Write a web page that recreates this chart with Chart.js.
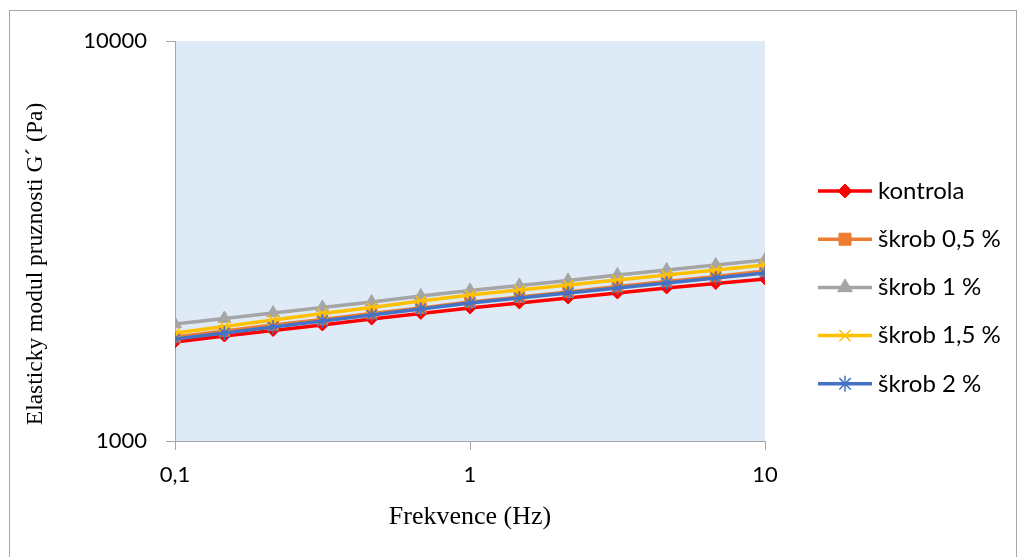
<!DOCTYPE html>
<html>
<head>
<meta charset="utf-8">
<script src="https://cdn.jsdelivr.net/npm/chart.js@4/dist/chart.umd.min.js"></script>
<style>
html,body{margin:0;padding:0;background:#fff;}
#wrap{position:relative;width:1018px;height:557px;}
</style>
</head>
<body>
<div id="wrap"><canvas id="c" width="1018" height="557"></canvas></div>
<script>
// ---- data ----
const frequencies = [0.1, 0.147, 0.215, 0.316, 0.464, 0.681, 1, 1.47, 2.15, 3.16, 4.64, 6.81, 10];
const seriesNames = ["kontrola", "škrob 0,5 %", "škrob 1 %", "škrob 1,5 %", "škrob 2 %"];
const kontrola = [1768, 1830, 1889, 1950, 2018, 2084, 2150, 2213, 2278, 2344, 2413, 2476, 2541];
const skrob05  = [1820, 1884, 1950, 2012, 2084, 2150, 2226, 2291, 2358, 2432, 2505, 2579, 2661];
const skrob1   = [1961, 2024, 2089, 2157, 2226, 2304, 2378, 2448, 2519, 2600, 2676, 2754, 2835];
const skrob15  = [1862, 1933, 2006, 2084, 2157, 2239, 2317, 2385, 2455, 2527, 2600, 2676, 2754];
const skrob2   = [1799, 1862, 1928, 1995, 2065, 2138, 2213, 2278, 2344, 2413, 2483, 2556, 2630];
const xTickValues = [0.1, 1, 10];
const xTickLabels = ["0,1", "1", "10"];
const yTickValues = [1000, 10000];
const yTickLabels = ["1000", "10000"];
const xTitle = "Frekvence (Hz)";
const yTitle = "Elasticky modul pruznosti G´ (Pa)";

const allSeries = [kontrola, skrob05, skrob1, skrob15, skrob2];
const colors = ["#FF0000", "#ED7D31", "#A5A5A5", "#FFC000", "#4472C4"];
const pStyles = ["rectRot", "rect", "triangle", "crossRot", "star"];
const pRadius = [6, 7.5, 7.5, 7, 7];
const pBorder = [1, 1, 1, 1.5, 1.5];

const datasets = allSeries.map((vals, i) => ({
  label: seriesNames[i],
  data: vals.map((v, k) => ({x: frequencies[k], y: v})),
  borderColor: colors[i],
  backgroundColor: colors[i],
  pointBackgroundColor: colors[i],
  pointBorderColor: colors[i],
  pointStyle: pStyles[i],
  pointRadius: pRadius[i],
  pointBorderWidth: pBorder[i],
  borderWidth: 3.5,
  tension: 0.3,
  order: allSeries.length - i
}));

const bgPlugin = {
  id: 'bg',
  beforeDraw(chart) {
    const {ctx, chartArea: a} = chart;
    ctx.save();
    ctx.fillStyle = '#DEEBF7';
    ctx.fillRect(a.left, a.top, a.right - a.left, a.bottom - a.top);
    ctx.restore();
  }
};

const decoPlugin = {
  id: 'deco',
  afterDraw(chart) {
    const ctx = chart.ctx;
    ctx.save();
    // outer frame
    ctx.strokeStyle = '#A6A6A6';
    ctx.lineWidth = 1;
    ctx.strokeRect(9.5, 10.5, 1007, 547);
    // titles
    ctx.fillStyle = '#000';
    ctx.font = '26px "Liberation Serif"';
    ctx.textAlign = 'center';
    ctx.textBaseline = 'middle';
    ctx.fillText(xTitle, 470, 517);
    ctx.save();
    ctx.translate(36, 264);
    ctx.rotate(-Math.PI / 2);
    ctx.font = '23.5px "Liberation Serif"';
    ctx.fillText(yTitle, 0, 0);
    ctx.restore();
    // legend
    chart.data.datasets.forEach((ds, i) => {
      const y = 191 + i * 48.2;
      ctx.strokeStyle = ds.borderColor;
      ctx.lineWidth = 3.5;
      ctx.beginPath();
      ctx.moveTo(818, y);
      ctx.lineTo(872, y);
      ctx.stroke();
      ctx.fillStyle = ds.pointBackgroundColor;
      ctx.strokeStyle = ds.pointBorderColor;
      ctx.lineWidth = ds.pointBorderWidth;
      if (Chart.helpers && Chart.helpers.drawPoint) {
        Chart.helpers.drawPoint(ctx, {pointStyle: ds.pointStyle, radius: ds.pointRadius + 1, rotation: 0, borderWidth: ds.pointBorderWidth}, 845, y);
      }
      ctx.fillStyle = '#000';
      ctx.font = '24px Lato';
      ctx.textAlign = 'left';
      ctx.textBaseline = 'middle';
      ctx.fillText(ds.label, 878, y);
    });
    ctx.restore();
  }
};

new Chart(document.getElementById('c'), {
  type: 'line',
  data: {datasets},
  options: {
    responsive: false,
    animation: false,
    layout: {padding: {top: 41, right: 253, left: 0, bottom: 0}},
    plugins: {legend: {display: false}, tooltip: {enabled: false}},
    scales: {
      x: {
        type: 'logarithmic',
        min: 0.1, max: 10,
        afterBuildTicks(s) { s.ticks = xTickValues.map(v => ({value: v})); },
        afterFit(s) { s.height = 116; },
        ticks: {
          callback: (v) => { const k = xTickValues.indexOf(v); return k >= 0 ? xTickLabels[k] : ''; },
          font: {family: 'Lato', size: 22}, color: '#000', padding: 12, maxRotation: 0, autoSkip: false
        },
        grid: {drawOnChartArea: false, drawTicks: true, tickLength: 9, color: '#A6A6A6'},
        border: {display: true, color: '#A6A6A6', width: 1}
      },
      y: {
        type: 'logarithmic',
        min: 1000, max: 10000,
        afterBuildTicks(s) { s.ticks = yTickValues.map(v => ({value: v})); },
        afterFit(s) { s.width = 175; },
        ticks: {
          callback: (v) => { const k = yTickValues.indexOf(v); return k >= 0 ? yTickLabels[k] : ''; },
          font: {family: 'Lato', size: 22}, color: '#000', padding: 19, autoSkip: false
        },
        grid: {drawOnChartArea: false, drawTicks: true, tickLength: 9, color: '#A6A6A6'},
        border: {display: true, color: '#A6A6A6', width: 1}
      }
    }
  },
  plugins: [bgPlugin, decoPlugin]
});
</script>
</body>
</html>
